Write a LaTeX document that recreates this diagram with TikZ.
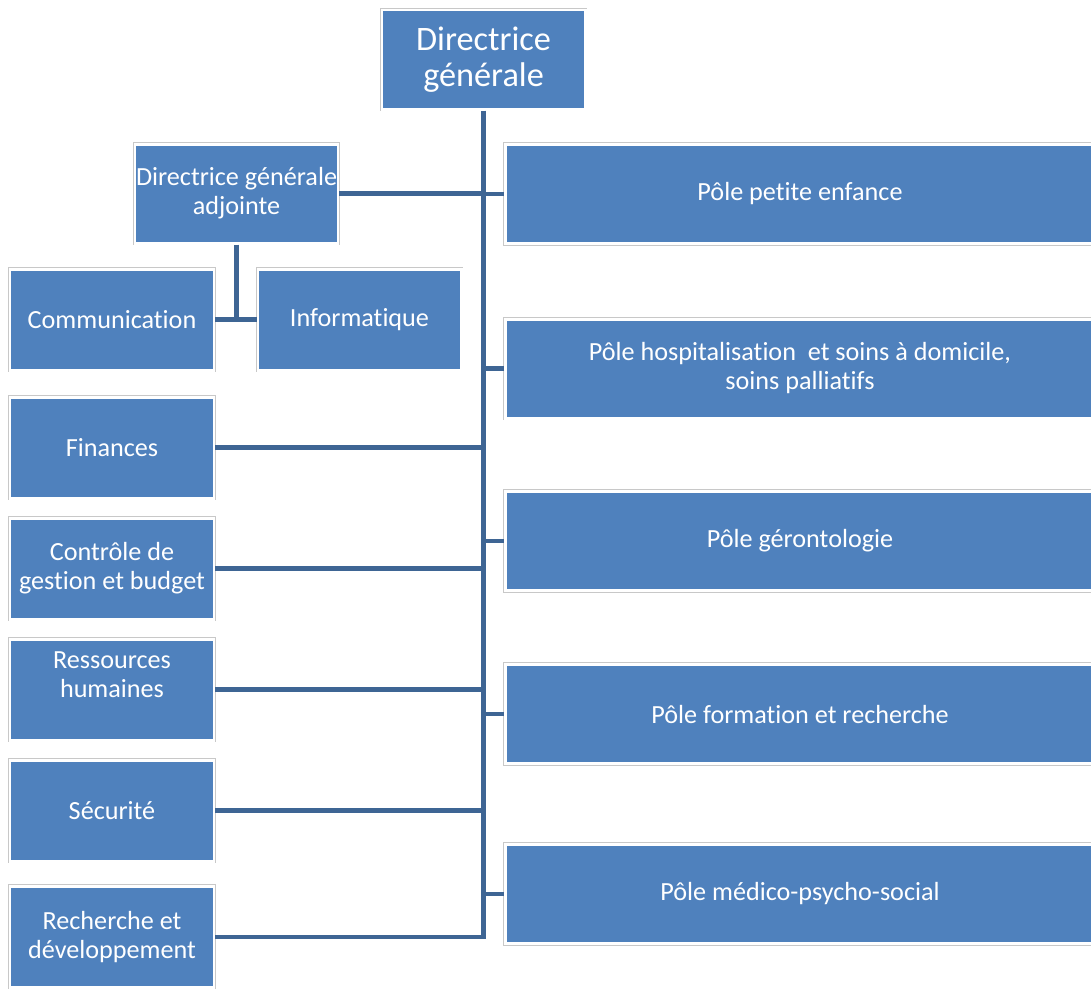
\documentclass[tikz,border=0pt]{standalone}
\usepackage{fontspec}
\setmainfont{Carlito}[Ligatures=CommonOff]
\usepackage{tikz}
\usetikzlibrary{positioning, calc}
\definecolor{orgblue}{RGB}{79,129,189}
\definecolor{orgline}{RGB}{62,101,148}
\definecolor{orgedge}{RGB}{200,200,200}

\begin{document}
\begin{tikzpicture}[x=0.02cm, y=-0.02cm,
  every node/.style={align=center},
  orgbox/.style={fill=orgblue, draw=white, line width=1.7pt,
    preaction={draw=orgedge, line width=2.3pt},
    text=white, inner sep=0pt, font=\fontsize{14.9}{16.5}\selectfont},
  leftbox/.style={orgbox, minimum width=204*0.02cm, minimum height=101*0.02cm},
  polebox/.style={orgbox, minimum width=590*0.02cm, minimum height=99*0.02cm},
  link/.style={draw=orgline, line width=2.3pt}]
  \useasboundingbox (0,0) rectangle (1091,988);
  % top
  \node[orgbox, minimum width=203*0.02cm, minimum height=99*0.02cm,
    font=\fontsize{19.5}{20.5}\selectfont] (dg) at (483.5,59.5) {Directrice\\générale};
  \node[orgbox, minimum width=203*0.02cm, minimum height=99*0.02cm] (dga) at (236.5,193.5) {Directrice générale\\adjointe};
  % left column
  \node[leftbox] (com) at (112,319.5) {Communication};
  \node[leftbox, minimum width=203*0.02cm] (inf) at (359.5,319.5) {Informatique};
  \node[leftbox] (fin) at (112,447.5) {Finances};
  \node[leftbox] (cdg) at (112,568.5) {Contrôle de\\gestion et budget};
  \node[leftbox] (rh) at (112,689.5) {Ressources\\humaines\\\mbox{}};
  \node[leftbox] (sec) at (112,810.5) {Sécurité};
  \node[leftbox] (rd) at (112,937) {Recherche et\\développement};
  % poles
  \node[polebox] (pe) at (800,194) {Pôle petite enfance};
  \node[polebox] (hs) at (800,368.5) {Pôle hospitalisation\ \ et soins à domicile,\\soins palliatifs};
  \node[polebox] (ge) at (800,541) {Pôle gérontologie};
  \node[polebox] (fr) at (800,714) {Pôle formation et recherche};
  \node[polebox] (mp) at (800,894) {Pôle médico-psycho-social};
  % links
  \draw[link] (dg.south) -- (dg.south |- rd.east) -- (rd.east);
  \foreach \n in {dga, fin, cdg, rh, sec}
    \draw[link] (\n.east) -- (\n.east -| dg.south);
  \foreach \n in {pe, hs, ge, fr, mp}
    \draw[link] (\n.west) -- (\n.west -| dg.south);
  \draw[link] (dga.south) -- (dga.south |- com.east);
  \draw[link] (com.east) -- (inf.west);
\end{tikzpicture}
\end{document}
